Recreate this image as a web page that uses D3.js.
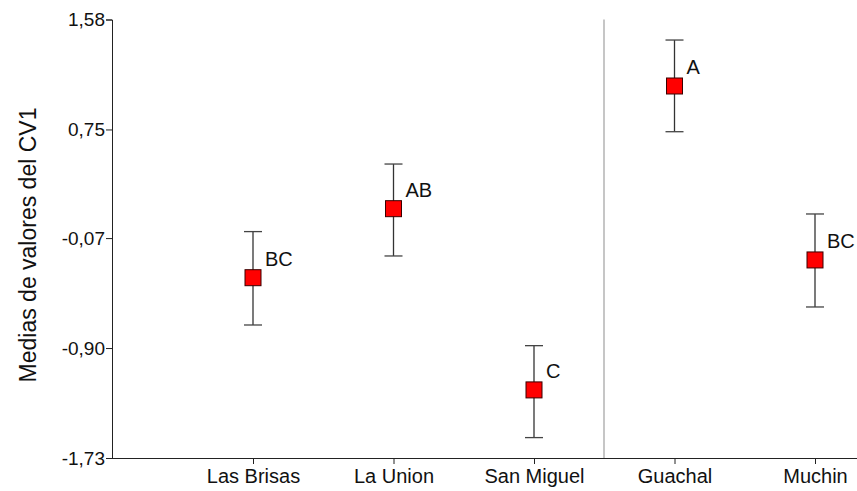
<!DOCTYPE html>
<html><head><meta charset="utf-8">
<script src="https://cdn.jsdelivr.net/npm/d3@7"></script>
<style>body{margin:0;background:#fff}svg{display:block}text{font-family:"Liberation Sans",Arial,sans-serif}</style>
</head><body><svg id="c" width="857" height="491"></svg>
<script>
const categories = ["Las Brisas","La Union","San Miguel","Guachal","Muchin"];
const means = [-0.369, 0.152, -1.216, 1.078, -0.235];
const upper = [-0.021, 0.489, -0.882, 1.425, 0.112];
const lower = [-0.726, -0.205, -1.576, 0.733, -0.590];
const letters = ["BC","AB","C","A","BC"];
const yTicks = [1.58, 0.75, -0.07, -0.90, -1.73];
const yTickLabels = ["1,58","0,75","-0,07","-0,90","-1,73"];
const yTitle = "Medias de valores del CV1";

const svg = d3.select("#c");
const x0 = 112, xEnd = 857;
const y = d3.scaleLinear().domain([-1.73, 1.58]).range([458, 19.5]);
const x = d3.scalePoint().domain(categories).range([253, 815]);

// separator
svg.append("line").attr("x1",604).attr("x2",604).attr("y1",y(1.58)).attr("y2",y(-1.73))
  .attr("stroke","#a0a0a0").attr("stroke-width",1.2);

// y axis
const ya = svg.append("g").attr("transform",`translate(${x0},0)`)
  .call(d3.axisLeft(y).tickValues(yTicks).tickFormat((d,i)=>yTickLabels[i]).tickSizeOuter(0).tickSize(6).tickPadding(1));
ya.select(".domain").attr("stroke","#222");
ya.selectAll(".tick line").attr("stroke","#222");
ya.selectAll("text").attr("font-size",19).attr("fill","#111").attr("font-family","Liberation Sans, Arial");

// x axis
const xa = svg.append("g").attr("transform",`translate(0,${y(-1.73)})`)
  .call(d3.axisBottom(x).tickSize(6).tickSizeOuter(0).tickPadding(5));
xa.select(".domain").attr("d",`M${x0},0.5H${xEnd}`).attr("stroke","#222");
xa.selectAll(".tick line").attr("stroke","#222");
xa.selectAll("text").attr("font-size",20).attr("fill","#111").attr("font-family","Liberation Sans, Arial");

svg.append("text").attr("transform",`translate(36,245) rotate(-90)`)
  .attr("text-anchor","middle").attr("font-size",23).attr("fill","#111").text(yTitle);

const g = svg.append("g");
const data = categories.map((c,i)=>({c,m:means[i],u:upper[i],l:lower[i],t:letters[i]}));
const capW = 9;
g.selectAll(".eb").data(data).join("line").attr("x1",d=>x(d.c)).attr("x2",d=>x(d.c))
  .attr("y1",d=>y(d.u)).attr("y2",d=>y(d.l)).attr("stroke","#333").attr("stroke-width",1.3);
g.selectAll(".cu").data(data).join("line").attr("x1",d=>x(d.c)-capW).attr("x2",d=>x(d.c)+capW)
  .attr("y1",d=>y(d.u)).attr("y2",d=>y(d.u)).attr("stroke","#444").attr("stroke-width",1.3);
g.selectAll(".cl").data(data).join("line").attr("x1",d=>x(d.c)-capW).attr("x2",d=>x(d.c)+capW)
  .attr("y1",d=>y(d.l)).attr("y2",d=>y(d.l)).attr("stroke","#444").attr("stroke-width",1.3);
const s = 16;
g.selectAll("rect").data(data).join("rect").attr("x",d=>x(d.c)-s/2).attr("y",d=>y(d.m)-s/2)
  .attr("width",s).attr("height",s).attr("fill","#ff0000").attr("stroke","#3a0000").attr("stroke-width",1);
g.selectAll(".lt").data(data).join("text").attr("x",d=>x(d.c)+12).attr("y",d=>y(d.m)-12)
  .attr("font-size",20).attr("fill","#111").text(d=>d.t);
</script></body></html>
